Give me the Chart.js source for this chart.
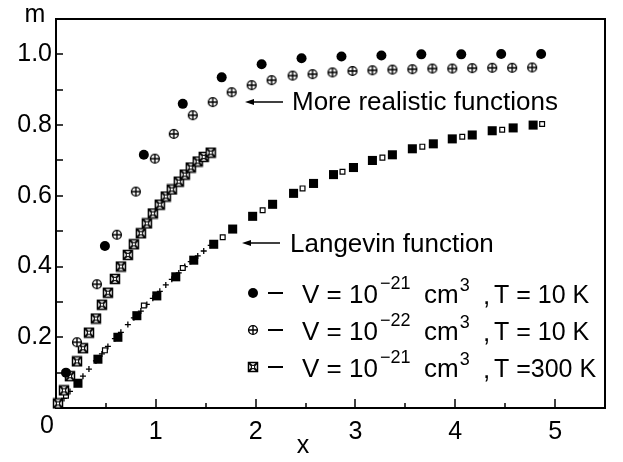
<!DOCTYPE html>
<html>
<head>
<meta charset="utf-8">
<script src="https://cdn.jsdelivr.net/npm/chart.js@4.4.1/dist/chart.umd.min.js"></script>
<style>
  body { margin: 0; background: #fff; }
  canvas { display: block; }
</style>
</head>
<body>
<canvas id="chart" width="623" height="462"></canvas>
<script>
// V = 1e-21 cm3, T = 10 K (filled circles)
const circleX = [0.1, 0.49, 0.88, 1.27, 1.66, 2.06, 2.46, 2.86, 3.26, 3.66, 4.06, 4.46, 4.86];
const circleY = [0.1, 0.458, 0.716, 0.86, 0.935, 0.972, 0.989, 0.994, 0.997, 1.0, 1.0, 1.001, 1.001];

// V = 1e-22 cm3, T = 10 K (circle with plus)
const oplusX = [0.21, 0.41, 0.61, 0.8, 0.99, 1.18, 1.37, 1.57, 1.76, 1.96, 2.16, 2.37, 2.57, 2.77, 2.97, 3.17, 3.37, 3.57, 3.77, 3.97, 4.17, 4.37, 4.57, 4.77];
const oplusY = [0.186, 0.35, 0.49, 0.612, 0.705, 0.775, 0.828, 0.865, 0.893, 0.913, 0.927, 0.94, 0.944, 0.949, 0.953, 0.955, 0.957, 0.958, 0.96, 0.96, 0.961, 0.962, 0.962, 0.963];

// V = 1e-21 cm3, T = 300 K (crossed squares)
const crossX = [0.02, 0.08, 0.14, 0.21, 0.27, 0.33, 0.4, 0.46, 0.52, 0.59, 0.65, 0.72, 0.78, 0.85, 0.91, 0.97, 1.04, 1.1, 1.16, 1.23, 1.29, 1.35, 1.42, 1.48, 1.55];
const crossY = [0.013, 0.05, 0.09, 0.132, 0.169, 0.213, 0.253, 0.292, 0.326, 0.365, 0.4, 0.433, 0.463, 0.494, 0.522, 0.55, 0.575, 0.598, 0.618, 0.64, 0.66, 0.68, 0.697, 0.71, 0.722];

// Langevin points
const langSqX = [0.22, 0.42, 0.62, 0.81, 1.01, 1.2, 1.38, 1.58, 1.77, 1.97, 2.17, 2.38, 2.58, 2.78, 2.98, 3.17, 3.37, 3.57, 3.78, 3.97, 4.17, 4.37, 4.58, 4.78];
const langSqY = [0.07, 0.138, 0.2, 0.261, 0.317, 0.371, 0.418, 0.463, 0.506, 0.542, 0.576, 0.607, 0.635, 0.66, 0.68, 0.7, 0.716, 0.733, 0.747, 0.761, 0.772, 0.784, 0.792, 0.8];
const langOpenX = [0.1, 0.49, 0.88, 1.27, 1.67, 2.07, 2.47, 2.87, 3.27, 3.67, 4.07, 4.47, 4.87];
const langOpenY = [0.035, 0.163, 0.29, 0.396, 0.483, 0.559, 0.621, 0.668, 0.708, 0.739, 0.767, 0.787, 0.803];
const langPlusX = crossX;
const langPlusY = [0.007, 0.027, 0.047, 0.07, 0.09, 0.11, 0.133, 0.153, 0.174, 0.196, 0.214, 0.236, 0.255, 0.274, 0.293, 0.31, 0.33, 0.348, 0.364, 0.382, 0.4, 0.414, 0.43, 0.444, 0.46];

// legend texts
const legendExp = ["\u221221", "\u221222", "\u221221"];
const legendTemp = ["T = 10 K", "T = 10 K", "T =300 K"];

const FONT = "'Liberation Sans', Arial, sans-serif";

const pts = (xs, ys) => xs.map((x, i) => ({ x: x, y: ys[i] }));

// little marker pictures
function makeOplus() {
  const c = document.createElement("canvas");
  c.width = c.height = 12;
  const g = c.getContext("2d");
  g.fillStyle = "#fff";
  g.strokeStyle = "#000";
  g.lineWidth = 1.4;
  g.beginPath();
  g.arc(6, 6, 4.4, 0, Math.PI * 2);
  g.fill();
  g.stroke();
  g.beginPath();
  g.moveTo(1.6, 6); g.lineTo(10.4, 6);
  g.moveTo(6, 1.6); g.lineTo(6, 10.4);
  g.stroke();
  return c;
}

function makeCrossSq() {
  const c = document.createElement("canvas");
  c.width = c.height = 12;
  const g = c.getContext("2d");
  g.fillStyle = "#fff";
  g.strokeStyle = "#000";
  g.lineWidth = 1.5;
  g.fillRect(1.5, 1.5, 9, 9);
  g.strokeRect(1.5, 1.5, 9, 9);
  g.lineWidth = 1.8;
  g.beginPath();
  g.moveTo(2, 2); g.lineTo(10, 10);
  g.moveTo(10, 2); g.lineTo(2, 10);
  g.stroke();
  g.lineWidth = 1;
  g.beginPath();
  g.arc(6, 6, 1.8, 0, Math.PI * 2);
  g.fill();
  g.stroke();
  return c;
}

const oplusImg = makeOplus();
const crossImg = makeCrossSq();

function drawArrow(ctx, x1, x2, y) {
  ctx.save();
  ctx.strokeStyle = "#000";
  ctx.fillStyle = "#000";
  ctx.lineWidth = 1.5;
  ctx.beginPath();
  ctx.moveTo(x1 + 6, y);
  ctx.lineTo(x2, y);
  ctx.stroke();
  ctx.beginPath();
  ctx.moveTo(x1, y);
  ctx.lineTo(x1 + 9, y - 3);
  ctx.lineTo(x1 + 9, y + 3);
  ctx.closePath();
  ctx.fill();
  ctx.restore();
}

const framePlugin = {
  id: "frame",
  beforeDatasetsDraw(chart) {
    const ctx = chart.ctx;
    const a = chart.chartArea;
    const xs = chart.scales.x;
    const ys = chart.scales.y;
    ctx.save();
    ctx.strokeStyle = "#000";
    ctx.lineWidth = 2;
    ctx.strokeRect(a.left, a.top, a.right - a.left, a.bottom - a.top);
    ctx.lineWidth = 1.5;
    ctx.beginPath();
    // inward ticks
    for (let v = 0.5; v <= 5.01; v += 0.5) {
      const px = Math.round(xs.getPixelForValue(v));
      const len = Math.abs(v - Math.round(v)) < 0.01 ? 9 : 5;
      ctx.moveTo(px, a.bottom);
      ctx.lineTo(px, a.bottom - len);
    }
    for (let v = 0.1; v <= 1.01; v += 0.1) {
      const py = Math.round(ys.getPixelForValue(v));
      ctx.moveTo(a.left, py);
      ctx.lineTo(a.left + 7, py);
    }
    ctx.stroke();
    ctx.restore();
  },
  afterDraw(chart) {
    const ctx = chart.ctx;
    const xs = chart.scales.x;
    ctx.save();
    ctx.fillStyle = "#000";
    ctx.textBaseline = "alphabetic";
    ctx.font = "25px " + FONT;
    ctx.textAlign = "center";
    ctx.fillText("m", 35, 22);
    ctx.fillText("x", 303, 453);
    ctx.fillText("0", xs.getPixelForValue(0) - 9, 433);

    ctx.textAlign = "left";
    ctx.font = "26px " + FONT;
    ctx.fillText("More realistic functions", 292, 110);
    ctx.fillText("Langevin function", 290, 252);
    drawArrow(ctx, 245, 283, 102);
    drawArrow(ctx, 242, 280, 243);

    // legend rows
    [293, 330, 367].forEach((y, i) => {
      if (i === 0) {
        ctx.beginPath();
        ctx.arc(253, y, 5, 0, Math.PI * 2);
        ctx.fill();
      } else {
        const img = i === 1 ? oplusImg : crossImg;
        ctx.drawImage(img, 253 - 6, y - 6);
      }
      ctx.fillRect(268, y - 1, 15, 2);
      const base = y + 10;
      ctx.font = "26px " + FONT;
      ctx.fillText("V = 10", 302, base);
      const supX = 302 + ctx.measureText("V = 10").width + 2;
      ctx.fillText("cm", 424, base);
      const cmEnd = 424 + ctx.measureText("cm").width + 1;
      ctx.fillText(",", 483, base + 1);
      ctx.font = "25px " + FONT;
      ctx.fillText(legendTemp[i], 494, base);
      ctx.font = "18px " + FONT;
      ctx.fillText(legendExp[i], supX, base - 14);
      ctx.fillText("3", cmEnd, base - 12);
    });
    ctx.restore();
  }
};

const ctx = document.getElementById("chart");

new Chart(ctx, {
  type: "scatter",
  data: {
    datasets: [
      {
        label: "V = 1e-21, T = 10 K",
        data: pts(circleX, circleY),
        pointStyle: "circle",
        pointRadius: 5,
        backgroundColor: "#000",
        borderColor: "#000",
        borderWidth: 0
      },
      {
        label: "V = 1e-22, T = 10 K",
        data: pts(oplusX, oplusY),
        pointStyle: oplusImg
      },
      {
        label: "V = 1e-21, T = 300 K",
        data: pts(crossX, crossY),
        pointStyle: crossImg
      },
      {
        label: "Langevin (open)",
        data: pts(langOpenX, langOpenY),
        pointStyle: "rect",
        pointRadius: 3.4,
        backgroundColor: "#fff",
        borderColor: "#000",
        borderWidth: 1.2
      },
      {
        label: "Langevin (filled)",
        data: pts(langSqX, langSqY),
        pointStyle: "rect",
        pointRadius: 6.4,
        backgroundColor: "#000",
        borderColor: "#000",
        borderWidth: 0
      },
      {
        label: "Langevin (plus)",
        data: pts(langPlusX, langPlusY),
        pointStyle: "cross",
        pointRadius: 3,
        borderColor: "#000",
        borderWidth: 1.3
      }
    ]
  },
  options: {
    responsive: false,
    animation: false,
    clip: false,
    layout: { padding: { top: 16, right: 18, left: 0, bottom: 0 } },
    plugins: {
      legend: { display: false },
      tooltip: { enabled: false }
    },
    scales: {
      x: {
        type: "linear",
        min: 0,
        max: 5.5,
        grid: { display: false, drawTicks: false },
        border: { display: false },
        ticks: {
          stepSize: 1,
          includeBounds: false,
          maxRotation: 0,
          padding: 9,
          color: "#000",
          font: { family: FONT, size: 25 },
          callback: (v) => (v === 0 ? "" : v)
        },
        afterFit: (s) => { s.height = 54; }
      },
      y: {
        type: "linear",
        min: 0,
        max: 1.1,
        grid: { display: false, drawTicks: false },
        border: { display: false },
        ticks: {
          stepSize: 0.2,
          includeBounds: false,
          padding: 4,
          color: "#000",
          font: { family: FONT, size: 25 },
          callback: (v) => (v === 0 ? "" : v.toFixed(1))
        },
        afterFit: (s) => { s.width = 56; }
      }
    }
  },
  plugins: [framePlugin]
});
</script>
</body>
</html>
